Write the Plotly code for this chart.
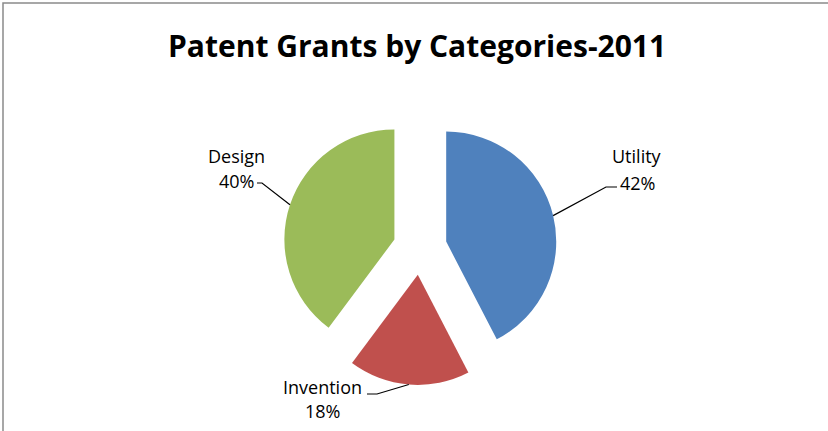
import math
import plotly.graph_objects as go

# ---- data ----
categories = ["Utility", "Invention", "Design"]
values = [42.4, 17.8, 39.8]
colors = ["#4F81BD", "#C0504D", "#9BBB59"]
title_text = "Patent Grants by Categories-2011"

W, H = 828, 431
PULL = 0.245
dom_x = [220 / W, 620 / W]
dom_y = [1 - 385 / H, 1 - 111 / H]

fig = go.Figure(go.Pie(
    labels=categories,
    values=values,
    marker=dict(colors=colors, line=dict(width=0)),
    pull=[PULL] * len(values),
    sort=False,
    direction="clockwise",
    rotation=0,
    textinfo="none",
    hoverinfo="label+percent",
    showlegend=False,
    domain=dict(x=dom_x, y=dom_y),
))

# geometry (pixels) derived from the pie domain
cx = (dom_x[0] + dom_x[1]) / 2 * W
cy = (1 - (dom_y[0] + dom_y[1]) / 2) * H
r = (dom_y[1] - dom_y[0]) * H / (2 * (1 + PULL))

# label layout in px
label_layout = {
    "Utility":   dict(lx=637, ny=156, py=183, ex=606, ey=187, endx=617),
    "Invention": dict(lx=322, ny=387, py=411, ex=377, ey=394, endx=367),
    "Design":    dict(lx=236, ny=156, py=181, ex=262, ey=183, endx=257),
}

def px2paper(x, y):
    return x / W, 1 - y / H

total = sum(values)
cum = 0.0
annotations = []
shapes = []
for cat, v in zip(categories, values):
    mid = (cum + v / 2) / total * 2 * math.pi
    cum += v
    ax = cx + r * (1 + PULL) * math.sin(mid)
    ay = cy - r * (1 + PULL) * math.cos(mid)
    L = label_layout[cat]
    p0 = px2paper(ax, ay)
    p1 = px2paper(L["ex"], L["ey"])
    p2 = px2paper(L["endx"], L["ey"])
    shapes.append(dict(
        type="path", xref="paper", yref="paper",
        path=f"M {p0[0]} {p0[1]} L {p1[0]} {p1[1]} L {p2[0]} {p2[1]}",
        line=dict(color="#000000", width=1.2),
    ))
    pct = f"{round(v / total * 100)}%"
    for txt, yy in ((cat, L["ny"]), (pct, L["py"])):
        xx, yp = px2paper(L["lx"], yy)
        annotations.append(dict(
            text=txt, x=xx, y=yp, xref="paper", yref="paper",
            xanchor="center", yanchor="middle", showarrow=False,
            font=dict(family="Open Sans", size=18, color="#000000"),
        ))

# title
tx, ty = px2paper(417, 45)
annotations.append(dict(
    text=f"<b>{title_text}</b>", x=tx, y=ty, xref="paper", yref="paper",
    xanchor="center", yanchor="middle", showarrow=False,
    font=dict(family="Open Sans", size=30, color="#000000"),
))

# chart frame (left and top edges visible)
fx0, fy1 = px2paper(3, 3)
shapes.append(dict(
    type="rect", xref="paper", yref="paper",
    x0=fx0, x1=1.05, y0=-0.05, y1=fy1,
    line=dict(color="#8a8a8a", width=1.5), fillcolor="rgba(0,0,0,0)",
))

fig.update_layout(
    width=W, height=H,
    margin=dict(l=0, r=0, t=0, b=0),
    paper_bgcolor="#ffffff",
    plot_bgcolor="#ffffff",
    annotations=annotations,
    shapes=shapes,
)

fig.write_html(
    "out.html",
    config={"displayModeBar": False},
    post_script="document.body.style.margin='0';document.body.style.overflow='hidden';",
)
